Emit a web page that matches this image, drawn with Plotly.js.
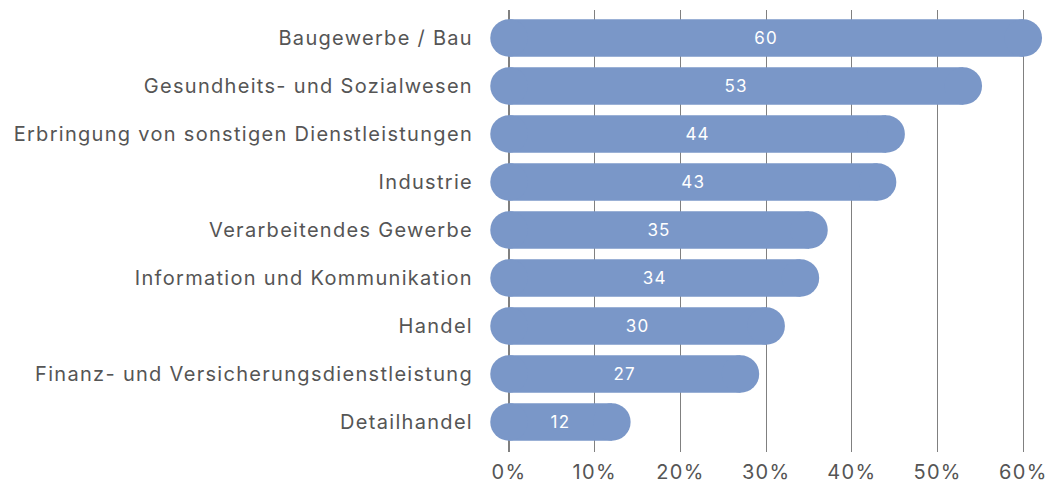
<!DOCTYPE html>
<html><head><meta charset="utf-8">
<script src="https://cdn.plot.ly/plotly-3.0.1.min.js"></script>
<style>
html,body{margin:0;padding:0;background:#fff}
#chart{width:1049px;height:484px}
#chart .ytick text, #chart .xtick text{letter-spacing:1.3px}
#chart text.bartext{letter-spacing:1.2px}
</style>
</head><body><div id="chart"></div>
<script>
const categories = ["Baugewerbe / Bau","Gesundheits- und Sozialwesen","Erbringung von sonstigen Dienstleistungen","Industrie","Verarbeitendes Gewerbe","Information und Kommunikation","Handel","Finanz- und Versicherungsdienstleistung","Detailhandel"];
const values = [60,53,44,43,35,34,30,27,12];
const tickVals = [0,10,20,30,40,50,60];
const tickText = ["0%","10%","20%","30%","40%","50%","60%"];

const barColor = "#7a97c8";
const fontFam = "Inter, Liberation Sans, Arial, sans-serif";
const capSize = 37.5;

const traces = [
  {type:"bar", orientation:"h", y:categories, x:values, width:0.78,
   marker:{color:barColor, line:{width:0}},
   text:values.map(String), textposition:"inside", insidetextanchor:"middle",
   textfont:{color:"#ffffff", size:17, family:fontFam}, hoverinfo:"skip", cliponaxis:false},
  {type:"scatter", mode:"markers", y:categories, x:values.map(()=>0),
   marker:{color:barColor, size:capSize, line:{width:0}}, hoverinfo:"skip", cliponaxis:false},
  {type:"scatter", mode:"markers", y:categories, x:values,
   marker:{color:barColor, size:capSize, line:{width:0}}, hoverinfo:"skip", cliponaxis:false}
];

const layout = {
  width:1049, height:484,
  margin:{l:490, r:0, t:10, b:32},
  showlegend:false,
  paper_bgcolor:"#ffffff", plot_bgcolor:"#ffffff",
  font:{family:fontFam, color:"#555555"},
  xaxis:{range:[-2.22,63.0], tickvals:tickVals, ticktext:tickText, showgrid:true,
    gridcolor:"#808080", gridwidth:1.2, zeroline:false, showline:false,
    tickfont:{size:20, color:"#555555"}, ticks:"", ticklabelstandoff:6, fixedrange:true},
  yaxis:{type:"category", categoryorder:"array", categoryarray:categories,
    range:[8.625,-0.583], autorange:false, showgrid:false, zeroline:false, showline:false,
    tickfont:{size:20, color:"#555555"}, ticks:"", ticklabelstandoff:16, fixedrange:true}
};
Plotly.newPlot("chart", traces, layout, {staticPlot:true, displayModeBar:false});
</script></body></html>
